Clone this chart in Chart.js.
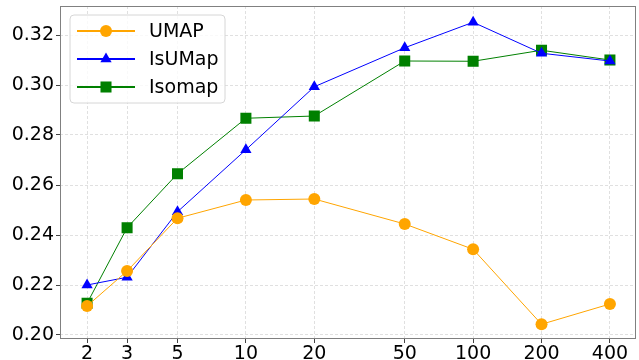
<!DOCTYPE html>
<html>
<head>
<meta charset="utf-8">
<script src="https://cdn.jsdelivr.net/npm/chart.js@4/dist/chart.umd.min.js"></script>
<style>
    html, body { margin: 0; padding: 0; background: #fff; }
    #wrap { width: 639px; height: 360px; }
</style>
</head>
<body>
<div id="wrap"><canvas id="chart" width="639" height="360"></canvas></div>
<script>
// n_neighbors values (log x axis)
var neighbors = [2, 3, 5, 10, 20, 50, 100, 200, 400];
var yTicks = [0.20, 0.22, 0.24, 0.26, 0.28, 0.30, 0.32];

var umapScores = [0.2116, 0.2256, 0.2467, 0.2540, 0.2544, 0.2444, 0.2343, 0.2043, 0.2124];
var isumapScores = [0.2200, 0.2231, 0.2493, 0.2741, 0.2993, 0.3149, 0.3251, 0.3127, 0.3096];
var isomapScores = [0.2127, 0.2429, 0.2645, 0.2867, 0.2876, 0.3096, 0.3095, 0.3139, 0.3100];

function toPoints(values) {
    return neighbors.map(function (n, i) { return {x: n, y: values[i]}; });
}

// Frame around the plot area (all four sides)
var framePlugin = {
    id: 'frame',
    afterDatasetsDraw: function (chart) {
        var a = chart.chartArea, ctx = chart.ctx;
        ctx.save();
        ctx.strokeStyle = '#808080';
        ctx.lineWidth = 1;
        ctx.strokeRect(Math.round(a.left) + 0.5, Math.round(a.top) + 0.5,
            Math.round(a.right - a.left) - 1, Math.round(a.bottom - a.top) - 1);
        ctx.restore();
    }
};

// Legend drawn inside the plot, upper left
var innerLegend = {
    id: 'innerLegend',
    afterDraw: function (chart) {
        var ctx = chart.ctx;
        var x0 = 70, y0 = 15, w = 155, h = 88, r = 4;
        ctx.save();
        ctx.beginPath();
        ctx.moveTo(x0 + r, y0);
        ctx.arcTo(x0 + w, y0, x0 + w, y0 + h, r);
        ctx.arcTo(x0 + w, y0 + h, x0, y0 + h, r);
        ctx.arcTo(x0, y0 + h, x0, y0, r);
        ctx.arcTo(x0, y0, x0 + w, y0, r);
        ctx.closePath();
        ctx.fillStyle = 'rgba(255,255,255,0.8)';
        ctx.fill();
        ctx.strokeStyle = '#d6d6d6';
        ctx.lineWidth = 1;
        ctx.stroke();

        chart.data.datasets.forEach(function (ds, i) {
            var cy = 31 + i * 28;
            ctx.strokeStyle = ds.borderColor;
            ctx.lineWidth = 2;
            ctx.beginPath();
            ctx.moveTo(77, cy);
            ctx.lineTo(135, cy);
            ctx.stroke();
            ctx.fillStyle = ds.backgroundColor;
            Chart.helpers.drawPoint(ctx, {
                pointStyle: ds.pointStyle,
                radius: ds.pointRadius,
                rotation: 0,
                borderWidth: 0
            }, 106, cy);
            ctx.fillStyle = '#000';
            ctx.font = '19px "DejaVu Sans"';
            ctx.textBaseline = 'middle';
            ctx.textAlign = 'left';
            ctx.fillText(ds.label, 149, cy + 1);
        });
        ctx.restore();
    }
};

var gridOpts = {
    color: 'rgba(0,0,0,0.12)',
    tickColor: '#444',
    tickLength: 4,
    lineWidth: 1
};

function noPad(axis) {
    axis.paddingTop = 0;
    axis.paddingBottom = 0;
    axis.paddingLeft = 0;
    axis.paddingRight = 0;
}

new Chart(document.getElementById('chart'), {
    type: 'line',
    data: {
        datasets: [{
            label: 'UMAP',
            data: toPoints(umapScores),
            borderColor: '#FFA500',
            backgroundColor: '#FFA500',
            pointStyle: 'circle',
            pointRadius: 6
        }, {
            label: 'IsUMap',
            data: toPoints(isumapScores),
            borderColor: '#0000FF',
            backgroundColor: '#0000FF',
            pointStyle: 'triangle',
            pointRadius: 6.5
        }, {
            label: 'Isomap',
            data: toPoints(isomapScores),
            borderColor: '#008000',
            backgroundColor: '#008000',
            pointStyle: 'rect',
            pointRadius: 7.8
        }]
    },
    options: {
        responsive: false,
        animation: false,
        layout: {autoPadding: false, padding: {top: 6, right: 3, left: 0, bottom: 0}},
        elements: {
            line: {borderWidth: 1, tension: 0},
            point: {borderWidth: 0, hoverRadius: 7}
        },
        plugins: {
            legend: {display: false},
            tooltip: {enabled: false}
        },
        scales: {
            x: {
                type: 'logarithmic',
                min: 1.52,
                max: 521,
                border: {display: false, dash: [3, 2]},
                grid: gridOpts,
                afterBuildTicks: function (axis) {
                    axis.ticks = neighbors.map(function (v) { return {value: v}; });
                },
                afterFit: function (axis) { axis.height = 21; noPad(axis); },
                ticks: {
                    color: '#000',
                    font: {family: 'DejaVu Sans', size: 19},
                    padding: 0,
                    maxRotation: 0,
                    autoSkip: false,
                    callback: function (v) { return String(v); }
                }
            },
            y: {
                min: 0.1984,
                max: 0.3316,
                border: {display: false, dash: [3, 2]},
                grid: gridOpts,
                afterBuildTicks: function (axis) {
                    axis.ticks = yTicks.map(function (v) { return {value: v}; });
                },
                afterFit: function (axis) { axis.width = 60; noPad(axis); },
                ticks: {
                    color: '#000',
                    font: {family: 'DejaVu Sans', size: 19},
                    padding: 2,
                    callback: function (v) { return v.toFixed(2); }
                }
            }
        }
    },
    plugins: [framePlugin, innerLegend]
});
</script>
</body>
</html>
